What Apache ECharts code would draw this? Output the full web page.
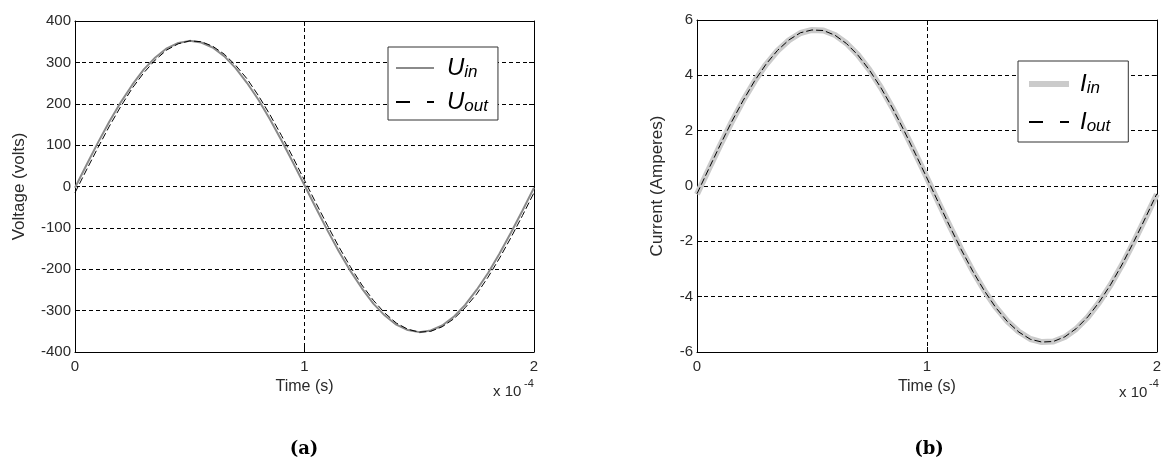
<!DOCTYPE html>
<html>
<head>
<meta charset="utf-8">
<style type="text/css">
  * { margin: 0; padding: 0; }
  #chart { width: 1164px; height: 464px; background: #fff; }
</style>
<script type="text/javascript" src="https://cdn.jsdelivr.net/npm/echarts@6/dist/echarts.min.js"></script>
</head>
<body>
<div id="chart"></div>
<script type="text/javascript">
// time in units of 1e-4 s
var time = [0, 0.05, 0.1, 0.15, 0.2, 0.25, 0.3, 0.35, 0.4, 0.45, 0.5, 0.55, 0.6, 0.65, 0.7, 0.75, 0.8, 0.85, 0.9, 0.95,
            1, 1.05, 1.1, 1.15, 1.2, 1.25, 1.3, 1.35, 1.4, 1.45, 1.5, 1.55, 1.6, 1.65, 1.7, 1.75, 1.8, 1.85, 1.9, 1.95, 2];

var uIn  = [-3, 52, 106, 157, 204, 246, 283, 312, 334, 347, 352, 348, 336, 315, 286, 250, 209, 162, 111, 58,
            3, -52, -106, -157, -204, -246, -283, -312, -334, -347, -352, -348, -336, -315, -286, -250, -209, -162, -111, -58, -3];
var uOut = [-15, 40, 94, 146, 194, 238, 275, 306, 330, 345, 352, 350, 339, 320, 293, 260, 219, 173, 123, 70,
            15, -40, -94, -146, -194, -238, -275, -306, -330, -345, -352, -350, -339, -320, -293, -260, -219, -173, -123, -70, -15];

var iIn  = [-0.30, 0.59, 1.46, 2.30, 3.08, 3.78, 4.39, 4.89, 5.27, 5.53, 5.64, 5.62, 5.46, 5.16, 4.74, 4.20, 3.56, 2.83, 2.02, 1.17,
            0.30, -0.59, -1.46, -2.30, -3.08, -3.78, -4.39, -4.89, -5.27, -5.53, -5.64, -5.62, -5.46, -5.16, -4.74, -4.20, -3.56, -2.83, -2.02, -1.17, -0.30];
var iOut = [-0.28, 0.60, 1.47, 2.31, 3.08, 3.79, 4.40, 4.90, 5.28, 5.54, 5.64, 5.62, 5.45, 5.15, 4.73, 4.19, 3.55, 2.82, 2.01, 1.16,
            0.29, -0.60, -1.47, -2.31, -3.09, -3.79, -4.40, -4.90, -5.28, -5.54, -5.64, -5.62, -5.45, -5.15, -4.73, -4.19, -3.55, -2.82, -2.01, -1.16, -0.28];

function pairs(ys) {
  return time.map(function (t, i) { return [t, ys[i]]; });
}

var FONT = 'Liberation Sans, Arial, sans-serif';
var tickFont = { color: '#2a2a2a', fontSize: 15, fontFamily: FONT };
var gridDash = { color: '#000', width: 1, type: [4, 3] };
var boxLine = { show: true, onZero: false, lineStyle: { color: '#000', width: 1 } };
var tickIn = { show: true, inside: true, length: 5, lineStyle: { color: '#000' } };

function xMain(g) {
  return {
    type: 'value', gridIndex: g, min: 0, max: 2, interval: 1, position: 'bottom',
    name: 'Time (s)', nameLocation: 'middle', nameGap: 20,
    nameTextStyle: { color: '#2a2a2a', fontSize: 16, fontFamily: FONT },
    axisLine: boxLine, axisTick: tickIn,
    axisLabel: Object.assign({ margin: 7 }, tickFont),
    splitLine: { show: true, lineStyle: gridDash }
  };
}
function xTop(g) {
  return {
    type: 'value', gridIndex: g, min: 0, max: 2, interval: 1, position: 'top',
    axisLine: boxLine, axisTick: tickIn, axisLabel: { show: false }, splitLine: { show: false }
  };
}
function yMain(g, lo, hi, step, name, gap) {
  return {
    type: 'value', gridIndex: g, min: lo, max: hi, interval: step, position: 'left',
    name: name, nameLocation: 'middle', nameGap: gap,
    nameTextStyle: { color: '#2a2a2a', fontSize: 17, fontFamily: FONT },
    axisLine: boxLine, axisTick: tickIn,
    axisLabel: Object.assign({ margin: 4 }, tickFont),
    splitLine: { show: true, lineStyle: gridDash }
  };
}
function yRight(g, lo, hi, step) {
  return {
    type: 'value', gridIndex: g, min: lo, max: hi, interval: step, position: 'right',
    axisLine: boxLine, axisTick: tickIn, axisLabel: { show: false }, splitLine: { show: false }
  };
}

var legendRich = {
  a: { fontSize: 24, fontStyle: 'italic', color: '#000', fontFamily: FONT, lineHeight: 26 },
  b: { fontSize: 17, fontStyle: 'italic', color: '#000', fontFamily: FONT, verticalAlign: 'bottom', padding: [12, 0, 0, 0], lineHeight: 26 }
};
var legendNames = { Uin: '{a|U}{b|in}', Uout: '{a|U}{b|out}', Iin: '{a|I}{b|in}', Iout: '{a|I}{b|out}' };
var legendDash = { type: [14, 17], width: 2, color: '#000' };

var chart = echarts.init(document.getElementById('chart'));
var option = {
  animation: false,
  backgroundColor: '#fff',
  grid: [
    { left: 75, right: 630, top: 21, bottom: 112 },
    { left: 697, right: 4, top: 20, bottom: 112 }
  ],
  xAxis: [xMain(0), xTop(0), xMain(1), xTop(1)],
  yAxis: [
    yMain(0, -400, 400, 100, 'Voltage (volts)', 47),
    yRight(0, -400, 400, 100),
    yMain(1, -6, 6, 2, 'Current (Amperes)', 31),
    yRight(1, -6, 6, 2)
  ],
  legend: [
    {
      data: [
        { name: 'Uin', lineStyle: { width: 2, color: '#8a8a8a' } },
        { name: 'Uout', lineStyle: legendDash }
      ],
      orient: 'vertical', left: 388, top: 47,
      itemWidth: 38, itemHeight: 14, itemGap: 5,
      itemStyle: { opacity: 0 },
      padding: [5, 10, 5, 7], borderColor: '#333', borderWidth: 1, backgroundColor: '#fff',
      formatter: function (n) { return legendNames[n]; },
      textStyle: { rich: legendRich, padding: [0, 0, 0, 8] }
    },
    {
      data: [
        { name: 'Iin', lineStyle: { width: 6, color: '#cbcbcb' } },
        { name: 'Iout', lineStyle: legendDash }
      ],
      orient: 'vertical', left: 1018, top: 61,
      itemWidth: 40, itemHeight: 14, itemGap: 9,
      itemStyle: { opacity: 0 },
      padding: [7, 18, 7, 8], borderColor: '#333', borderWidth: 1, backgroundColor: '#fff',
      formatter: function (n) { return legendNames[n]; },
      textStyle: { rich: legendRich, padding: [0, 0, 0, 6] }
    }
  ],
  graphic: [
    { type: 'text', left: 493, top: 384, style: { text: 'x 10', font: '15px "Liberation Sans", Arial', fill: '#2a2a2a' } },
    { type: 'text', left: 524, top: 378, style: { text: '-4', font: '11px "Liberation Sans", Arial', fill: '#2a2a2a' } },
    { type: 'text', left: 1119, top: 385, style: { text: 'x 10', font: '15px "Liberation Sans", Arial', fill: '#2a2a2a' } },
    { type: 'text', left: 1149, top: 378, style: { text: '-4', font: '11px "Liberation Sans", Arial', fill: '#2a2a2a' } },
    { type: 'text', x: 304, y: 440, style: { text: '(a)', textAlign: 'center', font: 'bold 18px "DejaVu Serif", serif', fill: '#000' } },
    { type: 'text', x: 929, y: 440, style: { text: '(b)', textAlign: 'center', font: 'bold 18px "DejaVu Serif", serif', fill: '#000' } }
  ],
  series: [
    { name: 'Uin', type: 'line', xAxisIndex: 0, yAxisIndex: 0, symbol: 'none', data: pairs(uIn),
      lineStyle: { color: '#8a8a8a', width: 2 }, itemStyle: { color: '#8a8a8a' } },
    { name: 'Uout', type: 'line', xAxisIndex: 0, yAxisIndex: 0, symbol: 'none', data: pairs(uOut),
      lineStyle: { color: '#000', width: 1, type: [7, 3] }, itemStyle: { color: '#000' } },
    { name: 'Iin', type: 'line', xAxisIndex: 2, yAxisIndex: 2, symbol: 'none', data: pairs(iIn),
      lineStyle: { color: '#cbcbcb', width: 6 }, itemStyle: { color: '#cbcbcb' } },
    { name: 'Iout', type: 'line', xAxisIndex: 2, yAxisIndex: 2, symbol: 'none', data: pairs(iOut),
      lineStyle: { color: '#000', width: 1, type: [7, 3] }, itemStyle: { color: '#000' } }
  ]
};
chart.setOption(option);
</script>
</body>
</html>
